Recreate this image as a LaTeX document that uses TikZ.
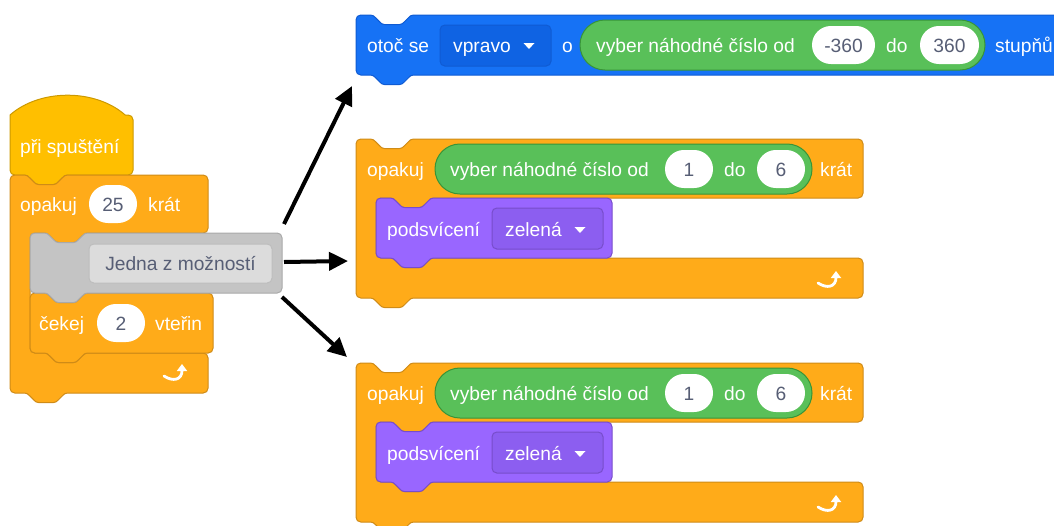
\documentclass[tikz,border=0pt]{standalone}
\usepackage{fontspec}
\setmainfont{Liberation Sans}
\usetikzlibrary{arrows.meta}
\definecolor{ctrl}{HTML}{FFAB19}
\definecolor{ctrlS}{HTML}{CF8B17}
\definecolor{evt}{HTML}{FFBF00}
\definecolor{evtS}{HTML}{CC9900}
\definecolor{mot}{HTML}{1672F5}
\definecolor{motS}{HTML}{0F5BD3}
\definecolor{motD}{HTML}{0F63E3}
\definecolor{opr}{HTML}{59C059}
\definecolor{oprS}{HTML}{389438}
\definecolor{lks}{HTML}{9966FF}
\definecolor{lksS}{HTML}{774DCB}
\definecolor{lksD}{HTML}{8C5EF0}
\definecolor{gry}{HTML}{C4C4C4}
\definecolor{gryS}{HTML}{A9A9A9}
\definecolor{gryI}{HTML}{DCDCDC}
\definecolor{gryIS}{HTML}{BDBDBD}
\definecolor{numtxt}{HTML}{575E75}
% notch left-to-right (dips down), notch right-to-left (dips down)
\newcommand\nLR[2]{-- ({#1+14.4},#2) .. controls ({#1+16.8},#2) and ({#1+18},{#2+1.2}) .. ({#1+19.2},{#2+2.4}) -- ({#1+24},{#2+7.2}) .. controls ({#1+25.2},{#2+8.4}) and ({#1+26.4},{#2+9.6}) .. ({#1+28.8},{#2+9.6}) -- ({#1+43.2},{#2+9.6}) .. controls ({#1+45.6},{#2+9.6}) and ({#1+46.8},{#2+8.4}) .. ({#1+48},{#2+7.2}) -- ({#1+52.8},{#2+2.4}) .. controls ({#1+54},{#2+1.2}) and ({#1+55.2},#2) .. ({#1+57.6},#2)}
\newcommand\nRL[2]{-- ({#1+57.6},#2) .. controls ({#1+55.2},#2) and ({#1+54},{#2+1.2}) .. ({#1+52.8},{#2+2.4}) -- ({#1+48},{#2+7.2}) .. controls ({#1+46.8},{#2+8.4}) and ({#1+45.6},{#2+9.6}) .. ({#1+43.2},{#2+9.6}) -- ({#1+28.8},{#2+9.6}) .. controls ({#1+26.4},{#2+9.6}) and ({#1+25.2},{#2+8.4}) .. ({#1+24},{#2+7.2}) -- ({#1+19.2},{#2+2.4}) .. controls ({#1+18},{#2+1.2}) and ({#1+16.8},#2) .. ({#1+14.4},#2)}
% stack block: style, x, y, w, h
\newcommand\stackblk[5]{\draw[#1] (#2,{#3+4.8}) .. controls (#2,{#3+2}) and ({#2+2},#3) .. ({#2+4.8},#3)
 \nLR{#2}{#3}
 -- ({#2+#4-4.8},#3) .. controls ({#2+#4-2},#3) and ({#2+#4},{#3+2}) .. ({#2+#4},{#3+4.8})
 -- ({#2+#4},{#3+#5-4.8}) .. controls ({#2+#4},{#3+#5-2}) and ({#2+#4-2},{#3+#5}) .. ({#2+#4-4.8},{#3+#5})
 \nRL{#2}{#3+#5}
 -- ({#2+4.8},{#3+#5}) .. controls ({#2+2},{#3+#5}) and (#2,{#3+#5-2}) .. (#2,{#3+#5-4.8}) -- cycle;}
% C block: style, x, y, w, header h, inner h, bottom h
\newcommand\cblk[7]{\draw[#1] (#2,{#3+4.8}) .. controls (#2,{#3+2}) and ({#2+2},#3) .. ({#2+4.8},#3)
 \nLR{#2}{#3}
 -- ({#2+#4-4.8},#3) .. controls ({#2+#4-2},#3) and ({#2+#4},{#3+2}) .. ({#2+#4},{#3+4.8})
 -- ({#2+#4},{#3+#5-4.8}) .. controls ({#2+#4},{#3+#5-2}) and ({#2+#4-2},{#3+#5}) .. ({#2+#4-4.8},{#3+#5})
 \nRL{#2+20}{#3+#5}
 -- ({#2+24.8},{#3+#5}) .. controls ({#2+22},{#3+#5}) and ({#2+20},{#3+#5+2}) .. ({#2+20},{#3+#5+4.8})
 -- ({#2+20},{#3+#5+#6-4.8}) .. controls ({#2+20},{#3+#5+#6-2}) and ({#2+22},{#3+#5+#6}) .. ({#2+24.8},{#3+#5+#6})
 \nLR{#2+20}{#3+#5+#6}
 -- ({#2+#4-4.8},{#3+#5+#6}) .. controls ({#2+#4-2},{#3+#5+#6}) and ({#2+#4},{#3+#5+#6+2}) .. ({#2+#4},{#3+#5+#6+4.8})
 -- ({#2+#4},{#3+#5+#6+#7-4.8}) .. controls ({#2+#4},{#3+#5+#6+#7-2}) and ({#2+#4-2},{#3+#5+#6+#7}) .. ({#2+#4-4.8},{#3+#5+#6+#7})
 \nRL{#2}{#3+#5+#6+#7}
 -- ({#2+4.8},{#3+#5+#6+#7}) .. controls ({#2+2},{#3+#5+#6+#7}) and (#2,{#3+#5+#6+#7-2}) .. (#2,{#3+#5+#6+#7-4.8}) -- cycle;}
% hat block: style, x, cap base y, w, bottom y
\newcommand\hatblk[5]{\draw[#1] (#2,#3) .. controls ({#2+30},{#3-26.4}) and ({#2+85.2},{#3-26.4}) .. ({#2+115.2},#3)
 -- ({#2+#4-4.8},#3) .. controls ({#2+#4-2},#3) and ({#2+#4},{#3+2}) .. ({#2+#4},{#3+4.8})
 -- ({#2+#4},{#5-4.8}) .. controls ({#2+#4},{#5-2}) and ({#2+#4-2},#5) .. ({#2+#4-4.8},#5)
 \nRL{#2}{#5}
 -- ({#2+4.8},#5) .. controls ({#2+2},#5) and (#2,{#5-2}) .. (#2,{#5-4.8}) -- cycle;}
% number oval: name, x1, x2, yc, text
\newcommand\numoval[5]{\fill[white, rounded corners=18.9pt] (#2,{#4-19}) rectangle (#3,{#4+19});
 \node[ntxt] (#1) at ({(#2+#3)/2},{#4+7}) {#5};}
% dropdown triangle: center
\newcommand\ddtri[2]{\fill[white] ({#1-5.5},{#2-3}) -- ({#1+5.5},{#2-3}) -- (#1,{#2+3}) -- cycle;}
% loop icon: center
\newcommand\loopicon[2]{\draw[white, line width=2.8pt, line cap=round, -{Triangle[length=7pt,width=10pt]}] ({#1-12},{#2+3}) .. controls ({#1-3},{#2+9}) and ({#1+6},{#2+7}) .. ({#1+6},{#2-9});}
\tikzset{
 wtxt/.style={text=white, font=\fontsize{19.2}{23}\selectfont, inner sep=0pt, anchor=base west},
 ntxt/.style={text=numtxt, font=\fontsize{19.2}{23}\selectfont, inner sep=0pt, anchor=base},
 ctrlblk/.style={fill=ctrl, draw=ctrlS, line width=1pt},
 evtblk/.style={fill=evt, draw=evtS, line width=1pt},
 motblk/.style={fill=mot, draw=motS, line width=1pt},
 lksblk/.style={fill=lks, draw=lksS, line width=1pt},
 gryblk/.style={fill=gry, draw=gryS, line width=1pt},
 oprrep/.style={fill=opr, draw=oprS, line width=1pt, rounded corners=24.9pt},
 conn/.style={draw=black, line width=4pt, -{Triangle[length=19pt,width=18pt]}},
}
\begin{document}
\begin{tikzpicture}[x=1pt,y=-1pt]
\useasboundingbox (0,0) rectangle (1054,525);
\clip (0,0) rectangle (1054,525);
% ---------- left script ----------
\hatblk{evtblk}{10}{115}{123}{175}
\node[wtxt] (hat) at (20,153) {při spuštění};
\cblk{ctrlblk}{10}{175}{198}{58}{120}{40}
\node[wtxt] (rep1) at (20,211) {opakuj};
\numoval{n25}{89}{137}{204}{25}
\node[wtxt] (krat0) at (148,211) {krát};
\stackblk{ctrlblk}{30}{293}{183}{60}
\node[wtxt] (wait) at (39,330) {čekej};
\numoval{n2}{97}{145}{323}{2}
\node[wtxt] (sec) at (155,330) {vteřin};
\stackblk{gryblk}{30}{233}{252}{60}
\draw[fill=gryI, draw=gryIS, line width=1pt, rounded corners=4.8pt] (89,244) rectangle (272,283);
\node[ntxt] (one) at (180.5,270) {Jedna z možností};
\loopicon{176}{373}
% ---------- top right: turn ----------
\stackblk{motblk}{356}{15}{800}{60}
\node[wtxt] (turn) at (367,52) {otoč se};
\draw[fill=motD, draw=motS, line width=1pt, rounded corners=4.8pt] (440,25) rectangle (551,66);
\node[wtxt] (dir) at (453,52) {vpravo};
\ddtri{529}{46}
\node[wtxt] (o) at (562,52) {o};
\draw[oprrep] (580,20) rectangle (985,70);
\node[wtxt] (rnd0) at (596,52) {vyber náhodné číslo od};
\numoval{m360}{812}{875}{45}{-360}
\node[wtxt] (do0) at (886,52) {do};
\numoval{p360}{920}{979}{45}{360}
\node[wtxt] (deg) at (995,52) {stupňů};
% ---------- right loops ----------
\foreach \dy/\k in {0/a,224/b}{
 \cblk{ctrlblk}{356}{139+\dy}{507}{59}{60}{40}
 \node[wtxt] (rep\k) at (367,176+\dy) {opakuj};
 \draw[oprrep] (435,144+\dy) rectangle (812,194+\dy);
 \node[wtxt] (rnd\k) at (450,176+\dy) {vyber náhodné číslo od};
 \numoval{lo\k}{665}{713}{169+\dy}{1}
 \node[wtxt] (do\k) at (724,176+\dy) {do};
 \numoval{hi\k}{757}{805}{169+\dy}{6}
 \node[wtxt] (krat\k) at (820,176+\dy) {krát};
 \stackblk{lksblk}{376}{198+\dy}{236}{60}
 \node[wtxt] (light\k) at (387,236+\dy) {podsvícení};
 \draw[fill=lksD, draw=lksS, line width=1pt, rounded corners=4.8pt] (492,208+\dy) rectangle (603,249+\dy);
 \node[wtxt] (col\k) at (505,236+\dy) {zelená};
 \ddtri{580}{230+\dy}
 \loopicon{830}{280+\dy}
}
% ---------- connectors ----------
\coordinate (g1) at (284,224);
\coordinate (g2) at (284,262);
\coordinate (g3) at (282,297);
\coordinate (t1) at (352,86);
\coordinate (t2) at (348,261);
\coordinate (t3) at (347,357);
\draw[conn] (g1) -- (t1);
\draw[conn] (g2) -- (t2);
\draw[conn] (g3) -- (t3);
\end{tikzpicture}
\end{document}
